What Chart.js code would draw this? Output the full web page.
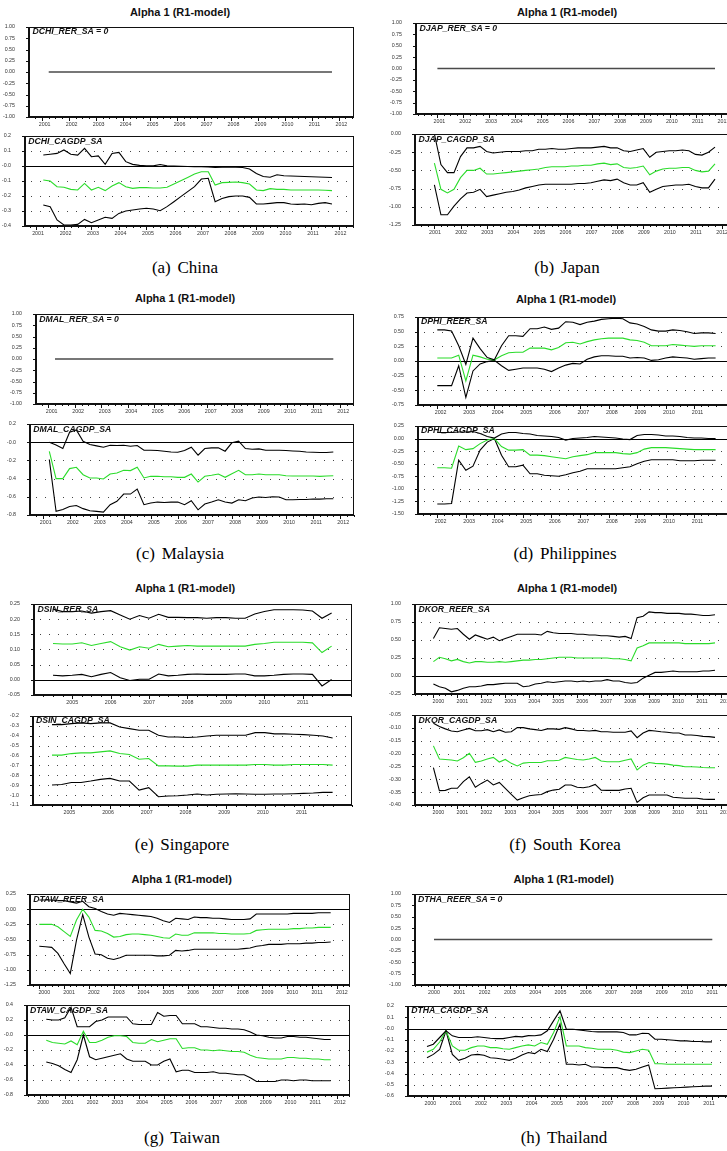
<!DOCTYPE html>
<html>
<head>
<meta charset="utf-8">
<script src="https://cdn.jsdelivr.net/npm/chart.js"></script>
<style>
html, body { margin: 0; padding: 0; background: #fff; }
body { width: 727px; height: 1151px; overflow: hidden; position: relative; }
canvas { position: absolute; }
.title { position: absolute; font: bold 11px "Liberation Sans", Arial, sans-serif; color: #111; transform: translate(-50%, -50%); white-space: nowrap; }
.tag { position: absolute; font: italic bold 8.7px "Liberation Sans", Arial, sans-serif; color: #111; transform: translateY(-50%); white-space: nowrap; }
.cap { position: absolute; font: 17px "Liberation Serif", "Times New Roman", serif; color: #000; transform: translate(-50%, -50%); white-space: nowrap; word-spacing: 2.5px; }
</style>
</head>
<body>
<script>
/* ===============================
   DATA (quarterly)
================================ */

const BLACK = "#000";
const GREEN = "#2bdc2b";
const FLAT = "#4a4a4a";

const tickUnit = ["1.00", "0.75", "0.50", "0.25", "0.00", "-0.25", "-0.50", "-0.75", "-1.00"];

// (a) China
const chnStart = "2001Q2";
const chnYears = ["2001", "2002", "2003", "2004", "2005", "2006", "2007", "2008", "2009", "2010", "2011", "2012"];
const chnRer = [0,0,0,0,0,0,0,0,0,0, 0,0,0,0,0,0,0,0,0,0, 0,0,0,0,0,0,0,0,0,0, 0,0,0,0,0,0,0,0,0,0, 0,0,0];
const chnCaTicks = ["0.2", "0.1", "-0.0", "-0.1", "-0.2", "-0.3", "-0.4"];
const chnCaUpper = [0.073, 0.078, 0.084, 0.107, 0.078, 0.073, 0.118, 0.062, 0.067, 0.011, 0.084, 0.091, 0.029, 0.011, 0.004, 0.002, 0.001, 0.010, 0.001, 0.000, -0.002, -0.003, -0.004, -0.005, -0.006, -0.010, -0.008, -0.008, -0.008, -0.010, -0.020, -0.050, -0.070, -0.075, -0.058, -0.065, -0.067, -0.068, -0.070, -0.072, -0.073, -0.075, -0.077];
const chnCaAlpha = [-0.093, -0.100, -0.138, -0.142, -0.156, -0.160, -0.116, -0.160, -0.142, -0.164, -0.133, -0.111, -0.138, -0.149, -0.144, -0.144, -0.147, -0.147, -0.142, -0.120, -0.098, -0.076, -0.053, -0.038, -0.038, -0.127, -0.111, -0.109, -0.107, -0.111, -0.120, -0.160, -0.164, -0.151, -0.156, -0.156, -0.160, -0.160, -0.160, -0.160, -0.160, -0.162, -0.164];
const chnCaLower = [-0.260, -0.271, -0.360, -0.393, -0.393, -0.389, -0.356, -0.378, -0.360, -0.342, -0.349, -0.316, -0.300, -0.293, -0.287, -0.282, -0.287, -0.298, -0.271, -0.238, -0.204, -0.171, -0.138, -0.087, -0.082, -0.238, -0.216, -0.204, -0.200, -0.200, -0.209, -0.253, -0.253, -0.249, -0.244, -0.244, -0.253, -0.256, -0.253, -0.258, -0.249, -0.244, -0.253];

// (b) Japan
const jpnStart = "2001Q1";
const jpnYears = ["2001", "2002", "2003", "2004", "2005", "2006", "2007", "2008", "2009", "2010", "2011", "2012"];
const jpnRer = [0,0,0,0,0,0,0,0,0,0, 0,0,0,0,0,0,0,0,0,0, 0,0,0,0,0,0,0,0,0,0, 0,0,0,0,0,0,0,0,0,0, 0,0,0,0];
const jpnCaTicks = ["0.00", "-0.25", "-0.50", "-0.75", "-1.00", "-1.25"];
const jpnCaUpper = [0.00, -0.42, -0.53, -0.53, -0.31, -0.19, -0.19, -0.17, -0.24, -0.26, -0.25, -0.24, -0.24, -0.24, -0.23, -0.23, -0.21, -0.21, -0.20, -0.21, -0.21, -0.20, -0.19, -0.19, -0.19, -0.18, -0.17, -0.19, -0.19, -0.23, -0.24, -0.22, -0.20, -0.32, -0.25, -0.24, -0.23, -0.23, -0.22, -0.23, -0.28, -0.29, -0.25, -0.18];
const jpnCaAlpha = [-0.40, -0.76, -0.81, -0.76, -0.60, -0.50, -0.50, -0.47, -0.55, -0.55, -0.54, -0.53, -0.52, -0.51, -0.50, -0.49, -0.48, -0.46, -0.45, -0.45, -0.45, -0.44, -0.44, -0.43, -0.43, -0.41, -0.40, -0.42, -0.41, -0.46, -0.47, -0.46, -0.44, -0.56, -0.51, -0.48, -0.47, -0.47, -0.46, -0.46, -0.50, -0.52, -0.51, -0.41];
const jpnCaLower = [-0.70, -1.11, -1.11, -0.99, -0.89, -0.81, -0.80, -0.76, -0.86, -0.84, -0.82, -0.80, -0.79, -0.77, -0.74, -0.72, -0.70, -0.69, -0.69, -0.69, -0.69, -0.69, -0.68, -0.68, -0.67, -0.65, -0.63, -0.64, -0.62, -0.67, -0.70, -0.70, -0.67, -0.80, -0.76, -0.72, -0.71, -0.70, -0.70, -0.69, -0.72, -0.74, -0.74, -0.62];

// (c) Malaysia
const malStart = "2001Q2";
const malYears = ["2001", "2002", "2003", "2004", "2005", "2006", "2007", "2008", "2009", "2010", "2011", "2012"];
const malRer = [0,0,0,0,0,0,0,0,0,0, 0,0,0,0,0,0,0,0,0,0, 0,0,0,0,0,0,0,0,0,0, 0,0,0,0,0,0,0,0,0,0, 0,0,0];
const malCaTicks = ["0.2", "-0.0", "-0.2", "-0.4", "-0.6", "-0.8"];
const malCaUpper = [0.000, -0.030, -0.070, 0.110, 0.135, 0.010, -0.026, -0.040, -0.055, -0.033, -0.037, -0.033, -0.044, -0.037, -0.088, -0.088, -0.092, -0.099, -0.107, -0.110, -0.092, -0.055, -0.143, -0.070, -0.062, -0.062, -0.099, -0.007, 0.011, -0.070, -0.077, -0.073, -0.088, -0.088, -0.088, -0.092, -0.096, -0.099, -0.107, -0.110, -0.114, -0.114, -0.107];
const malCaAlpha = [-0.100, -0.400, -0.400, -0.290, -0.276, -0.357, -0.393, -0.393, -0.404, -0.350, -0.338, -0.309, -0.312, -0.276, -0.393, -0.375, -0.375, -0.379, -0.379, -0.386, -0.386, -0.350, -0.438, -0.375, -0.364, -0.350, -0.386, -0.346, -0.309, -0.357, -0.357, -0.350, -0.357, -0.357, -0.357, -0.368, -0.371, -0.371, -0.371, -0.371, -0.375, -0.371, -0.368];
const malCaLower = [-0.190, -0.760, -0.740, -0.706, -0.695, -0.730, -0.754, -0.760, -0.768, -0.687, -0.650, -0.570, -0.570, -0.515, -0.687, -0.669, -0.658, -0.662, -0.658, -0.658, -0.687, -0.643, -0.743, -0.680, -0.658, -0.632, -0.658, -0.669, -0.632, -0.643, -0.614, -0.603, -0.607, -0.600, -0.603, -0.632, -0.632, -0.629, -0.629, -0.625, -0.625, -0.621, -0.621];

// (d) Philippines
const phiStart = "2002Q1";
const phiYears = ["2002", "2003", "2004", "2005", "2006", "2007", "2008", "2009", "2010", "2011"];
const phiReerTicks = ["0.75", "0.50", "0.25", "0.00", "-0.25", "-0.50", "-0.75"];
const phiReerUpper = [0.53, 0.53, 0.51, 0.26, -0.06, 0.39, 0.21, 0.06, 0.02, 0.26, 0.43, 0.43, 0.42, 0.55, 0.55, 0.58, 0.54, 0.56, 0.67, 0.66, 0.62, 0.66, 0.68, 0.71, 0.72, 0.73, 0.72, 0.65, 0.63, 0.59, 0.53, 0.51, 0.51, 0.53, 0.52, 0.50, 0.47, 0.48, 0.48, 0.47];
const phiReerAlpha = [0.05, 0.05, 0.05, 0.10, -0.34, 0.10, 0.07, 0.03, 0.02, 0.09, 0.14, 0.15, 0.15, 0.22, 0.22, 0.22, 0.19, 0.23, 0.31, 0.32, 0.29, 0.33, 0.36, 0.38, 0.39, 0.39, 0.39, 0.36, 0.35, 0.32, 0.26, 0.26, 0.26, 0.28, 0.27, 0.26, 0.25, 0.26, 0.26, 0.26];
const phiReerLower = [-0.42, -0.42, -0.42, -0.08, -0.62, -0.17, -0.05, -0.01, 0.01, -0.08, -0.16, -0.14, -0.12, -0.12, -0.12, -0.14, -0.18, -0.12, -0.07, -0.04, -0.05, 0.03, 0.07, 0.09, 0.09, 0.08, 0.08, 0.05, 0.06, 0.05, 0.01, 0.02, 0.05, 0.07, 0.06, 0.05, 0.03, 0.04, 0.05, 0.05];
const phiCaTicks = ["0.25", "0.00", "-0.25", "-0.50", "-0.75", "-1.00", "-1.25", "-1.50"];
const phiCaUpper = [0.12, 0.12, 0.12, 0.13, 0.13, 0.14, 0.10, 0.04, 0.01, 0.09, 0.12, 0.12, 0.10, 0.09, 0.06, 0.05, 0.04, 0.02, -0.03, 0.00, 0.01, 0.02, 0.04, 0.03, 0.02, 0.01, -0.01, -0.02, 0.06, 0.08, 0.08, 0.07, 0.05, 0.05, 0.04, 0.02, 0.01, 0.01, 0.00, 0.00];
const phiCaAlpha = [-0.58, -0.58, -0.59, -0.15, -0.22, -0.20, -0.10, -0.03, 0.00, -0.16, -0.23, -0.23, -0.22, -0.33, -0.33, -0.34, -0.36, -0.38, -0.40, -0.36, -0.34, -0.32, -0.28, -0.28, -0.28, -0.28, -0.30, -0.31, -0.28, -0.21, -0.18, -0.18, -0.18, -0.19, -0.20, -0.21, -0.22, -0.22, -0.22, -0.22];
const phiCaLower = [-1.30, -1.30, -1.29, -0.43, -0.63, -0.55, -0.23, -0.07, 0.00, -0.33, -0.56, -0.56, -0.53, -0.70, -0.70, -0.73, -0.74, -0.75, -0.72, -0.68, -0.65, -0.60, -0.60, -0.60, -0.60, -0.60, -0.58, -0.56, -0.50, -0.45, -0.42, -0.42, -0.42, -0.42, -0.44, -0.44, -0.44, -0.43, -0.43, -0.43];

// (e) Singapore
const sinStart = "2004Q3";
const sinYears = ["2005", "2006", "2007", "2008", "2009", "2010", "2011"];
const sinRerTicks = ["0.25", "0.20", "0.15", "0.10", "0.05", "0.00", "-0.05"];
const sinRerUpper = [0.233, 0.225, 0.225, 0.227, 0.220, 0.225, 0.228, 0.214, 0.200, 0.212, 0.203, 0.216, 0.206, 0.206, 0.205, 0.205, 0.203, 0.205, 0.205, 0.203, 0.203, 0.217, 0.225, 0.231, 0.231, 0.231, 0.230, 0.227, 0.203, 0.220];
const sinRerAlpha = [0.120, 0.118, 0.118, 0.122, 0.113, 0.120, 0.126, 0.109, 0.098, 0.109, 0.104, 0.117, 0.109, 0.111, 0.113, 0.111, 0.111, 0.111, 0.111, 0.111, 0.111, 0.117, 0.120, 0.124, 0.124, 0.124, 0.124, 0.122, 0.090, 0.111];
const sinRerLower = [0.015, 0.013, 0.015, 0.018, 0.010, 0.018, 0.024, 0.007, -0.002, 0.002, 0.002, 0.019, 0.013, 0.015, 0.018, 0.019, 0.018, 0.018, 0.018, 0.019, 0.019, 0.013, 0.013, 0.015, 0.018, 0.019, 0.019, 0.018, -0.020, 0.001];
const sinCaTicks = ["-0.2", "-0.3", "-0.4", "-0.5", "-0.6", "-0.7", "-0.8", "-0.9", "-1.0", "-1.1"];
const sinCaUpper = [-0.287, -0.287, -0.277, -0.270, -0.277, -0.270, -0.270, -0.311, -0.328, -0.344, -0.344, -0.395, -0.412, -0.412, -0.418, -0.412, -0.402, -0.395, -0.395, -0.395, -0.395, -0.368, -0.368, -0.381, -0.381, -0.385, -0.388, -0.395, -0.402, -0.422];
const sinCaAlpha = [-0.596, -0.596, -0.580, -0.573, -0.573, -0.563, -0.553, -0.580, -0.590, -0.637, -0.630, -0.704, -0.704, -0.707, -0.707, -0.697, -0.697, -0.697, -0.697, -0.697, -0.697, -0.690, -0.690, -0.697, -0.697, -0.690, -0.690, -0.690, -0.690, -0.697];
const sinCaLower = [-0.898, -0.892, -0.872, -0.872, -0.858, -0.841, -0.831, -0.858, -0.858, -0.949, -0.925, -1.016, -1.009, -1.006, -0.999, -0.989, -0.999, -0.992, -0.989, -0.986, -0.989, -0.992, -0.992, -0.989, -0.989, -0.986, -0.982, -0.979, -0.972, -0.972];

// (f) South Korea
const korStart = "2000Q1";
const korYears = ["2000", "2001", "2002", "2003", "2004", "2005", "2006", "2007", "2008", "2009", "2010", "2011", "2012"];
const korReerTicks = ["1.00", "0.75", "0.50", "0.25", "0.00", "-0.25"];
const korReerUpper = [0.52, 0.67, 0.66, 0.65, 0.66, 0.58, 0.51, 0.57, 0.54, 0.51, 0.54, 0.49, 0.52, 0.55, 0.58, 0.58, 0.58, 0.58, 0.57, 0.62, 0.60, 0.59, 0.59, 0.59, 0.58, 0.58, 0.57, 0.57, 0.56, 0.56, 0.55, 0.54, 0.55, 0.52, 0.81, 0.83, 0.89, 0.88, 0.88, 0.87, 0.87, 0.87, 0.86, 0.86, 0.85, 0.84, 0.84, 0.85];
const korReerAlpha = [0.20, 0.26, 0.24, 0.21, 0.23, 0.20, 0.18, 0.20, 0.20, 0.19, 0.19, 0.20, 0.19, 0.20, 0.21, 0.22, 0.22, 0.23, 0.23, 0.24, 0.25, 0.26, 0.26, 0.26, 0.25, 0.25, 0.25, 0.25, 0.25, 0.25, 0.24, 0.24, 0.23, 0.21, 0.39, 0.42, 0.46, 0.46, 0.46, 0.46, 0.46, 0.46, 0.45, 0.45, 0.45, 0.45, 0.45, 0.46];
const korReerLower = [-0.11, -0.15, -0.17, -0.22, -0.20, -0.17, -0.15, -0.15, -0.14, -0.12, -0.12, -0.11, -0.10, -0.10, -0.10, -0.15, -0.14, -0.11, -0.10, -0.08, -0.09, -0.08, -0.07, -0.07, -0.08, -0.07, -0.08, -0.07, -0.07, -0.05, -0.07, -0.07, -0.09, -0.10, -0.09, -0.03, 0.01, 0.05, 0.05, 0.06, 0.07, 0.06, 0.06, 0.06, 0.06, 0.07, 0.07, 0.08];
const korCaTicks = ["-0.05", "-0.10", "-0.15", "-0.20", "-0.25", "-0.30", "-0.35", "-0.40"];
const korCaUpper = [-0.082, -0.095, -0.104, -0.112, -0.115, -0.108, -0.102, -0.111, -0.111, -0.107, -0.115, -0.108, -0.117, -0.115, -0.099, -0.099, -0.104, -0.107, -0.110, -0.104, -0.104, -0.106, -0.099, -0.104, -0.110, -0.110, -0.112, -0.110, -0.115, -0.115, -0.117, -0.117, -0.117, -0.112, -0.138, -0.120, -0.110, -0.112, -0.115, -0.117, -0.120, -0.120, -0.128, -0.128, -0.130, -0.133, -0.134, -0.137];
const korCaAlpha = [-0.170, -0.221, -0.223, -0.225, -0.229, -0.216, -0.199, -0.234, -0.229, -0.221, -0.215, -0.233, -0.223, -0.238, -0.248, -0.237, -0.235, -0.235, -0.235, -0.228, -0.228, -0.226, -0.215, -0.219, -0.223, -0.225, -0.221, -0.215, -0.229, -0.232, -0.232, -0.232, -0.226, -0.221, -0.264, -0.245, -0.235, -0.238, -0.239, -0.241, -0.245, -0.247, -0.251, -0.251, -0.252, -0.254, -0.255, -0.255];
const korCaLower = [-0.255, -0.344, -0.343, -0.335, -0.335, -0.309, -0.290, -0.331, -0.316, -0.303, -0.322, -0.312, -0.335, -0.359, -0.381, -0.372, -0.364, -0.361, -0.359, -0.348, -0.342, -0.339, -0.322, -0.322, -0.331, -0.333, -0.329, -0.320, -0.342, -0.343, -0.343, -0.343, -0.338, -0.335, -0.390, -0.372, -0.361, -0.361, -0.361, -0.361, -0.370, -0.372, -0.374, -0.374, -0.374, -0.377, -0.378, -0.378];

// (g) Taiwan
const tawReerStart = "2000Q1";
const tawCaStart = "2000Q2";
const tawYears = ["2000", "2001", "2002", "2003", "2004", "2005", "2006", "2007", "2008", "2009", "2010", "2011", "2012"];
const tawReerTicks = ["0.25", "0.00", "-0.25", "-0.50", "-0.75", "-1.00", "-1.25"];
const tawReerUpper = [0.15, 0.15, 0.15, 0.14, 0.14, 0.12, 0.10, 0.13, 0.04, 0.01, -0.04, -0.08, -0.10, -0.07, -0.08, -0.09, -0.10, -0.11, -0.12, -0.15, -0.19, -0.22, -0.15, -0.16, -0.17, -0.13, -0.14, -0.14, -0.15, -0.15, -0.16, -0.17, -0.17, -0.17, -0.16, -0.08, -0.08, -0.08, -0.08, -0.08, -0.08, -0.07, -0.07, -0.07, -0.07, -0.06, -0.06, -0.06];
const tawReerAlpha = [-0.25, -0.25, -0.25, -0.29, -0.37, -0.45, -0.18, 0.00, -0.13, -0.35, -0.36, -0.40, -0.46, -0.45, -0.42, -0.41, -0.41, -0.42, -0.43, -0.45, -0.47, -0.48, -0.41, -0.43, -0.43, -0.39, -0.39, -0.39, -0.39, -0.40, -0.40, -0.41, -0.41, -0.41, -0.40, -0.35, -0.34, -0.33, -0.33, -0.33, -0.33, -0.32, -0.32, -0.31, -0.31, -0.30, -0.30, -0.30];
const tawReerLower = [-0.61, -0.62, -0.63, -0.73, -0.90, -1.06, -0.51, -0.09, -0.46, -0.74, -0.75, -0.81, -0.83, -0.80, -0.76, -0.76, -0.76, -0.76, -0.76, -0.77, -0.77, -0.76, -0.68, -0.69, -0.68, -0.66, -0.66, -0.66, -0.66, -0.66, -0.66, -0.66, -0.66, -0.65, -0.64, -0.61, -0.60, -0.58, -0.58, -0.58, -0.57, -0.57, -0.57, -0.56, -0.56, -0.55, -0.55, -0.54];
const tawCaTicks = ["0.4", "0.2", "-0.0", "-0.2", "-0.4", "-0.6", "-0.8"];
const tawCaUpper = [0.21, 0.20, 0.20, 0.23, 0.37, 0.11, 0.11, 0.11, 0.18, 0.20, 0.24, 0.24, 0.24, 0.24, 0.15, 0.14, 0.14, 0.14, 0.30, 0.25, 0.26, 0.26, 0.15, 0.15, 0.15, 0.11, 0.11, 0.10, 0.09, 0.09, 0.08, 0.08, 0.07, 0.04, 0.00, -0.01, -0.03, -0.04, -0.04, -0.02, -0.02, -0.03, -0.03, -0.04, -0.05, -0.06, -0.06];
const tawCaAlpha = [-0.07, -0.10, -0.11, -0.12, -0.08, -0.13, 0.05, -0.10, -0.10, -0.07, -0.03, -0.01, -0.01, -0.02, -0.10, -0.11, -0.11, -0.06, -0.09, -0.07, -0.05, -0.05, -0.18, -0.17, -0.17, -0.20, -0.20, -0.21, -0.20, -0.21, -0.22, -0.22, -0.23, -0.27, -0.30, -0.31, -0.32, -0.32, -0.32, -0.30, -0.30, -0.31, -0.31, -0.32, -0.32, -0.33, -0.33];
const tawCaLower = [-0.36, -0.38, -0.41, -0.46, -0.50, -0.33, 0.00, -0.29, -0.33, -0.31, -0.29, -0.27, -0.25, -0.32, -0.35, -0.35, -0.35, -0.40, -0.40, -0.35, -0.32, -0.49, -0.47, -0.47, -0.50, -0.50, -0.50, -0.49, -0.51, -0.51, -0.52, -0.53, -0.53, -0.57, -0.62, -0.62, -0.62, -0.62, -0.60, -0.60, -0.61, -0.60, -0.60, -0.61, -0.61, -0.61, -0.61];

// (h) Thailand
const thaReerStart = "2000Q1";
const thaCaStart = "1999Q4";
const thaYears = ["2000", "2001", "2002", "2003", "2004", "2005", "2006", "2007", "2008", "2009", "2010", "2011"];
const thaReer = [0,0,0,0,0,0,0,0,0,0, 0,0,0,0,0,0,0,0,0,0, 0,0,0,0,0,0,0,0,0,0, 0,0,0,0,0,0,0,0,0,0, 0,0,0,0,0];
const thaCaTicks = ["0.2", "0.1", "-0.0", "-0.1", "-0.2", "-0.3", "-0.4", "-0.5", "-0.6"];
const thaCaUpper = [-0.16, -0.14, -0.08, -0.02, -0.065, -0.08, -0.08, -0.08, -0.074, -0.08, -0.086, -0.09, -0.09, -0.08, -0.07, -0.074, -0.063, -0.065, -0.057, -0.02, 0.07, 0.158, -0.006, -0.006, -0.012, -0.02, -0.027, -0.03, -0.03, -0.03, -0.03, -0.036, -0.057, -0.057, -0.042, -0.045, -0.095, -0.095, -0.10, -0.104, -0.11, -0.11, -0.116, -0.116, -0.119, -0.119];
const thaCaAlpha = [-0.21, -0.185, -0.12, -0.02, -0.155, -0.193, -0.193, -0.17, -0.155, -0.155, -0.17, -0.17, -0.18, -0.185, -0.17, -0.155, -0.146, -0.155, -0.125, -0.14, -0.036, 0.104, -0.155, -0.155, -0.155, -0.17, -0.176, -0.185, -0.185, -0.185, -0.193, -0.21, -0.214, -0.20, -0.185, -0.193, -0.313, -0.313, -0.318, -0.318, -0.318, -0.318, -0.318, -0.318, -0.318, -0.318];
const thaCaLower = [-0.26, -0.23, -0.185, -0.02, -0.23, -0.283, -0.265, -0.235, -0.23, -0.238, -0.26, -0.265, -0.274, -0.283, -0.265, -0.235, -0.214, -0.223, -0.185, -0.205, -0.095, 0.039, -0.318, -0.318, -0.324, -0.318, -0.342, -0.342, -0.348, -0.348, -0.348, -0.363, -0.372, -0.363, -0.342, -0.324, -0.536, -0.533, -0.53, -0.527, -0.524, -0.521, -0.518, -0.515, -0.512, -0.512];


/* ===============================
   PANELS
================================ */

function bands(hi, mid, lo){
  return [{values:hi,color:BLACK},{values:mid,color:GREEN},{values:lo,color:BLACK}];
}
function flat(v){
  return [{values:v,color:FLAT,width:1.6}];
}

const panels = [
  { title:[180,12], cap:[185,268], caption:"(a) China", plots:[
    { tag:"DCHI_RER_SA = 0", box:[29.3,26.7,324.7,90], px:[49,332], lo:2.7,
      start:chnStart, years:chnYears, yTicks:tickUnit, grid:false, series:flat(chnRer) },
    { tag:"DCHI_CAGDP_SA", box:[25,136,329,90], px:[43.3,332], lo:1.6,
      start:chnStart, years:chnYears, yTicks:chnCaTicks, grid:true, series:bands(chnCaUpper,chnCaAlpha,chnCaLower) } ]},
  { title:[567,12], cap:[567,268], caption:"(b) Japan", plots:[
    { tag:"DJAP_RER_SA = 0", box:[416.3,23.3,325,90.7], px:[437.7,715.3], lo:2,
      start:jpnStart, years:jpnYears, yTicks:tickUnit, grid:false, series:flat(jpnRer) },
    { tag:"DJAP_CAGDP_SA", box:[415.3,134.3,325,90.7], px:[434.7,715.3], lo:0.6,
      start:jpnStart, years:jpnYears, yTicks:jpnCaTicks, grid:true, series:bands(jpnCaUpper,jpnCaAlpha,jpnCaLower) } ]},
  { title:[185,298.3], cap:[180,554], caption:"(c) Malaysia", plots:[
    { tag:"DMAL_RER_SA = 0", box:[36,314.3,318,90], px:[55,333.3], lo:3.3,
      start:malStart, years:malYears, yTicks:tickUnit, grid:false, series:flat(malRer) },
    { tag:"DMAL_CAGDP_SA", box:[30,424.3,324,90.7], px:[49.3,333.3], lo:3.2,
      start:malStart, years:malYears, yTicks:malCaTicks, grid:true, series:bands(malCaUpper,malCaAlpha,malCaLower) } ]},
  { title:[566,299.3], cap:[565,554], caption:"(d) Philippines", plots:[
    { tag:"DPHI_REER_SA", box:[417.7,316.7,325,87.6], px:[437,715.3], lo:3.3,
      start:phiStart, years:phiYears, yTicks:phiReerTicks, grid:true, series:bands(phiReerUpper,phiReerAlpha,phiReerLower) },
    { tag:"DPHI_CAGDP_SA", box:[417.7,425.7,325,88.3], px:[437,715.3], lo:3.3,
      start:phiStart, years:phiYears, yTicks:phiCaTicks, grid:true, series:bands(phiCaUpper,phiCaAlpha,phiCaLower) } ]},
  { title:[185,588.3], cap:[182,845], caption:"(e) Singapore", plots:[
    { tag:"DSIN_RER_SA", box:[34.3,604.3,318.4,90.7], px:[53.3,332.3], lo:0,
      start:sinStart, years:sinYears, yTicks:sinRerTicks, grid:true, series:bands(sinRerUpper,sinRerAlpha,sinRerLower) },
    { tag:"DSIN_CAGDP_SA", box:[32.7,715.7,319,89.3], px:[51.7,332.3], lo:-2,
      start:sinStart, years:sinYears, yTicks:sinCaTicks, grid:true, series:bands(sinCaUpper,sinCaAlpha,sinCaLower) } ]},
  { title:[567,588.3], cap:[565,845], caption:"(f) South Korea", plots:[
    { tag:"DKOR_REER_SA", box:[415.3,604.3,325,90], px:[433.7,715.3], lo:5,
      start:korStart, years:korYears, yTicks:korReerTicks, grid:true, series:bands(korReerUpper,korReerAlpha,korReerLower) },
    { tag:"DKOR_CAGDP_SA", box:[415.3,715,325,90], px:[433.7,715.3], lo:5,
      start:korStart, years:korYears, yTicks:korCaTicks, grid:true, series:bands(korCaUpper,korCaAlpha,korCaLower) } ]},
  { title:[181.7,879.3], cap:[182,1138], caption:"(g) Taiwan", plots:[
    { tag:"DTAW_REER_SA", box:[30,894,320,91], px:[39.3,330.7], lo:5,
      start:tawReerStart, years:tawYears, yTicks:tawReerTicks, grid:true, series:bands(tawReerUpper,tawReerAlpha,tawReerLower) },
    { tag:"DTAW_CAGDP_SA", box:[26.7,1005,323.3,90], px:[46,330.7], lo:3,
      start:tawCaStart, years:tawYears, yTicks:tawCaTicks, grid:true, series:bands(tawCaUpper,tawCaAlpha,tawCaLower) } ]},
  { title:[563.7,879], cap:[564,1138], caption:"(h) Thailand", plots:[
    { tag:"DTHA_REER_SA = 0", box:[414.7,894,325,91], px:[433.7,712], lo:0,
      start:thaReerStart, years:thaYears, yTicks:tickUnit, grid:false, series:flat(thaReer) },
    { tag:"DTHA_CAGDP_SA", box:[408,1005.7,330,89.6], px:[427,712], lo:-3,
      start:thaCaStart, years:thaYears, yTicks:thaCaTicks, grid:true, series:bands(thaCaUpper,thaCaAlpha,thaCaLower) } ]}
];


/* ===============================
   EVIEWS-LOOK FRAME PLUGIN
================================ */

const TICK_FONT = "5.3px 'Liberation Sans', Arial, sans-serif";

const eviewsFrame = {
  id:"eviewsFrame",
  beforeDatasetsDraw(chart, args, opts){
    if(!opts.grid) return;
    const {ctx, chartArea:a, scales:{y}} = chart;
    ctx.save();
    ctx.lineWidth = 1;
    y.ticks.forEach(t=>{
      if(t.value===y.min || t.value===y.max) return;
      const py = Math.round(y.getPixelForValue(t.value)) + 0.5;
      ctx.beginPath();
      if(t.value===0){
        ctx.setLineDash([]);
        ctx.strokeStyle = "#000";
        ctx.moveTo(a.left, py);
      } else {
        ctx.setLineDash([1,8]);
        ctx.strokeStyle = "#444";
        ctx.moveTo(a.left+6, py);
      }
      ctx.lineTo(a.right, py);
      ctx.stroke();
    });
    ctx.restore();
  },
  afterDatasetsDraw(chart, args, opts){
    const {ctx, chartArea:a, scales:{x,y}} = chart;
    const L = Math.round(a.left), R = Math.round(a.right);
    const T = Math.round(a.top), B = Math.round(a.bottom);
    ctx.save();
    ctx.strokeStyle = "#111";
    ctx.lineWidth = 1;
    ctx.beginPath();
    ctx.moveTo(L, T+0.5); ctx.lineTo(R, T+0.5);
    ctx.moveTo(R-0.5, T); ctx.lineTo(R-0.5, B);
    y.ticks.forEach(t=>{
      const py = Math.round(y.getPixelForValue(t.value)) + 0.5;
      ctx.moveTo(L-3, py); ctx.lineTo(L, py);
    });
    x.ticks.forEach(t=>{
      const px = Math.round(x.getPixelForValue(t.value)) + 0.5;
      ctx.moveTo(px, B); ctx.lineTo(px, B+4);
    });
    for(let q=Math.ceil(x.min*4); q<=x.max*4; q++){
      if(q%4===0) continue;
      const px = Math.round(x.getPixelForValue(q/4)) + 0.5;
      ctx.moveTo(px, B); ctx.lineTo(px, B+2);
    }
    ctx.stroke();
    ctx.lineWidth = 2;
    ctx.beginPath();
    ctx.moveTo(L, T); ctx.lineTo(L, B+1);
    ctx.moveTo(L-1, B); ctx.lineTo(R, B);
    ctx.stroke();

    // year labels under the x axis
    ctx.fillStyle = "#333";
    ctx.font = TICK_FONT;
    ctx.textAlign = "center";
    ctx.textBaseline = "middle";
    x.ticks.forEach(t=>{
      ctx.fillText(String(t.value), x.getPixelForValue(t.value) + opts.lo, B + 8);
    });
    ctx.restore();
  }
};


/* ===============================
   RENDER
================================ */

function quarterTime(q){
  const [y,k] = q.split("Q");
  return Number(y) + (Number(k)-1)/4;
}

function addText(cls, text, x, y){
  const d = document.createElement("div");
  d.className = cls;
  d.textContent = text;
  d.style.left = x + "px";
  d.style.top = y + "px";
  document.body.appendChild(d);
}

function drawPlot(sp){
  const padL = 40, padT = 4, padB = 14, padR = 10;
  const [L, T, W, H] = sp.box;
  const cw = Math.round(padL + W + padR), ch = Math.round(padT + H + padB);

  const c = document.createElement("canvas");
  c.width = cw; c.height = ch;
  c.style.width = cw + "px"; c.style.height = ch + "px";
  c.style.left = (L - padL) + "px";
  c.style.top = (T - padT) + "px";
  document.body.appendChild(c);

  const t0 = quarterTime(sp.start);
  const n = sp.series[0].values.length;
  const perYear = (sp.px[1] - sp.px[0]) / ((n - 1) / 4);
  const xmin = t0 - (sp.px[0] - L) / perYear;
  const xmax = t0 + (L + W - sp.px[0]) / perYear;
  const yVals = sp.yTicks.map(Number);

  new Chart(c,{
    type:"line",
    data:{
      datasets: sp.series.map(s=>({
        data: s.values.map((v,i)=>({x:t0 + i/4, y:v})),
        borderColor: s.color,
        borderWidth: s.width || 1.1,
        pointRadius: 0,
        tension: 0,
        fill: false
      }))
    },
    options:{
      responsive:false,
      animation:false,
      devicePixelRatio:1,
      events:[],
      layout:{padding:{top:padT, right:padR, left:0, bottom:0}},
      plugins:{
        legend:{display:false},
        tooltip:{enabled:false},
        eviewsFrame:{grid:sp.grid, lo:sp.lo}
      },
      scales:{
        x:{
          type:"linear", bounds:"data", min:xmin, max:xmax,
          grid:{display:false}, border:{display:false},
          afterBuildTicks:s=>{ s.ticks = sp.years.map(v=>({value:Number(v)})); },
          afterFit:s=>{ s.height = padB; s.paddingLeft = 0; s.paddingRight = 0; },
          ticks:{display:false}
        },
        y:{
          type:"linear", bounds:"data", min:Math.min(...yVals), max:Math.max(...yVals),
          grid:{display:false}, border:{display:false},
          afterBuildTicks:s=>{ s.ticks = yVals.map(v=>({value:v})); },
          afterFit:s=>{ s.width = padL; s.paddingTop = 0; s.paddingBottom = 0; },
          ticks:{autoSkip:false, padding:6, color:"#333",
                 font:{size:5.3, family:"'Liberation Sans', Arial, sans-serif"},
                 callback:v=>sp.yTicks[yVals.indexOf(v)]}
        }
      }
    },
    plugins:[eviewsFrame]
  });

  addText("tag", sp.tag, L + 3.2, T + 4.6);
}

panels.forEach(p=>{
  addText("title", "Alpha 1 (R1-model)", p.title[0], p.title[1]);
  p.plots.forEach(drawPlot);
  addText("cap", p.caption, p.cap[0], p.cap[1]);
});
</script>
</body>
</html>
